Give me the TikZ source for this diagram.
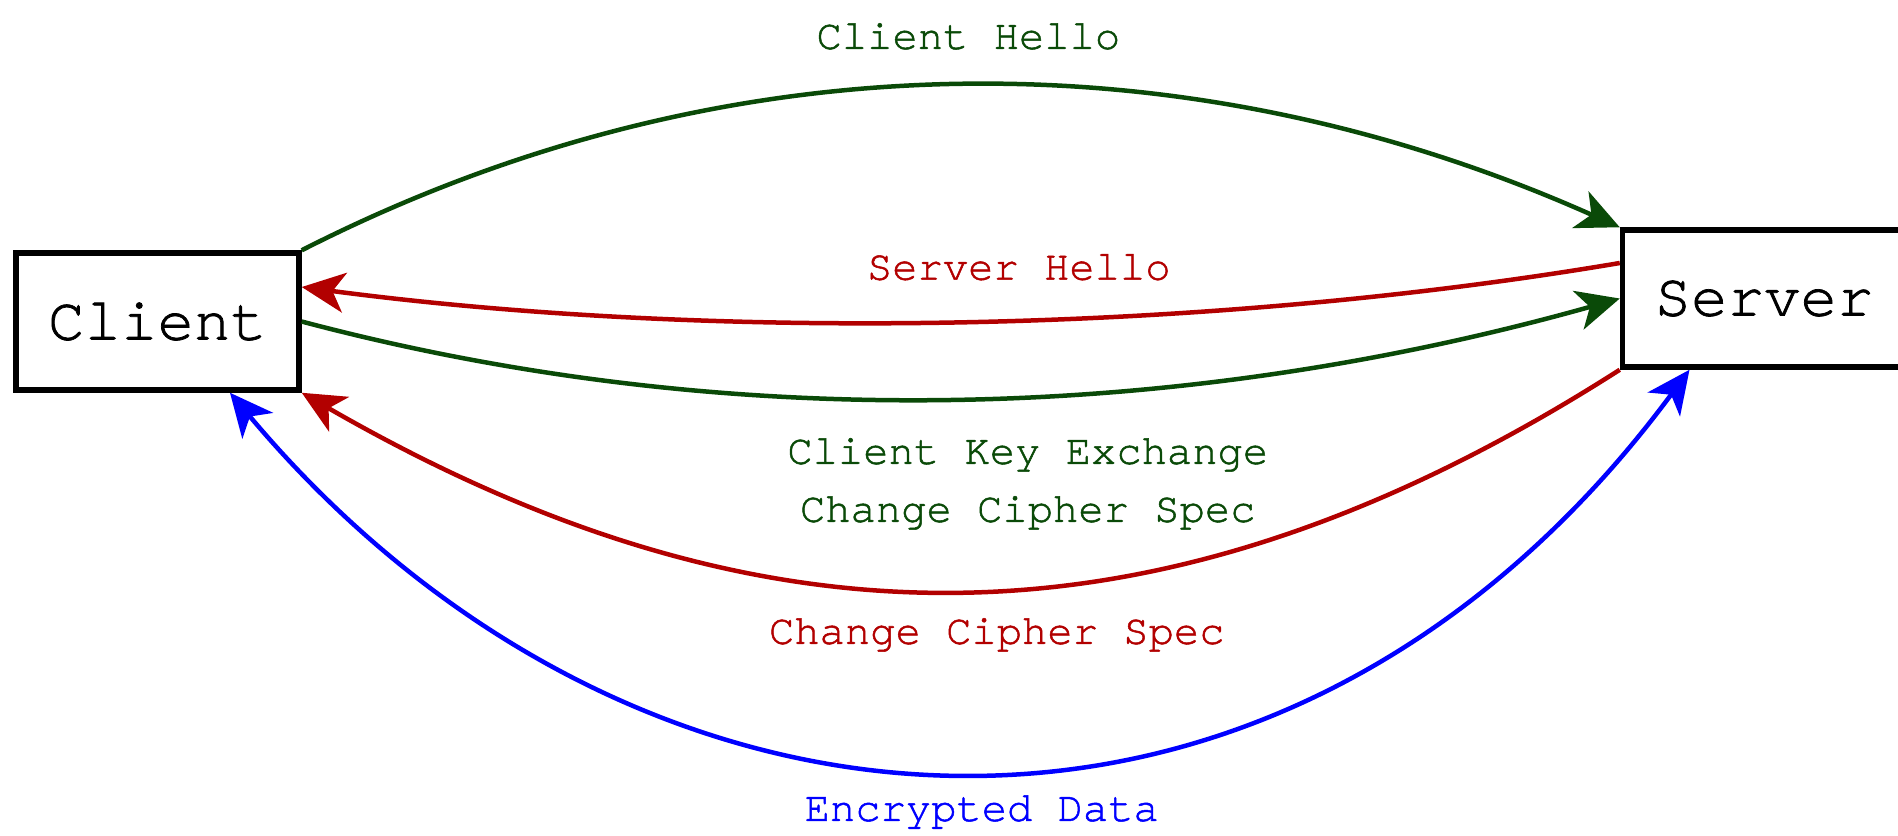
\documentclass[tikz,border=0pt]{standalone}
\usepackage{fontspec}
\setmonofont[FakeBold=1.2]{texgyrecursor-regular.otf}
\usetikzlibrary{positioning,arrows.meta,calc}
\definecolor{hellog}{RGB}{10,74,8}
\definecolor{replyr}{RGB}{178,0,0}
\definecolor{datab}{RGB}{0,0,255}
\tikzset{
  host/.style={draw=black, line width=0.55mm, fill=white, minimum width=28.3mm,
               minimum height=13.7mm, font=\ttfamily\fontsize{17.3}{20}\selectfont},
  msg/.style={line width=0.45mm},
  lbl/.style={font=\ttfamily\fontsize{12}{16.5}\selectfont, align=center},
  >={Stealth[length=4.3mm, width=4mm, inset=1.2mm]},
}

\begin{document}
\begin{tikzpicture}[x=0.1mm, y=-0.1mm]
\useasboundingbox (0,0) rectangle (1898,835);
\node[host] (client) at (157.5,321.5) {Client};
\node[host, right=131.8mm of client, yshift=2.3mm] (server) {Server};

\draw[msg, hellog, ->] (client.north east) .. controls +(424,-216) and +(-433,-193) ..
   node[lbl, text=hellog, midway, xshift=1.1mm, yshift=4.9mm] (lhello) {Client Hello} (server.north west);
\draw[msg, replyr, ->] ($(server.west)+(0,-35.5)$) .. controls +(-420,71) and +(410,54) ..
   node[lbl, text=replyr, pos=0.45, xshift=-0.6mm, yshift=5.3mm] (lshello) {Server Hello} ($(client.east)+(0,-34.5)$);
\draw[msg, hellog, ->] (client.east) .. controls +(434,115) and +(-434,122) ..
   node[lbl, text=hellog, midway, xshift=6.7mm, yshift=-8.5mm] (lkey) {Client Key Exchange\\Change Cipher Spec} (server.west);
\draw[msg, replyr, ->] (server.south west) .. controls +(-460,294) and +(460,265) ..
   node[lbl, text=replyr, midway, xshift=3.6mm, yshift=-4.4mm] (lspec) {Change Cipher Spec} (client.south east);
\draw[msg, datab, <->] ($(client.south)+(72.5,0)$) .. controls +(408,486) and +(-408,551) ..
   node[lbl, text=datab, midway, xshift=2.2mm, yshift=-4.2mm] (ldata) {Encrypted Data} ($(server.south)+(-74.5,0)$);
\end{tikzpicture}
\end{document}
